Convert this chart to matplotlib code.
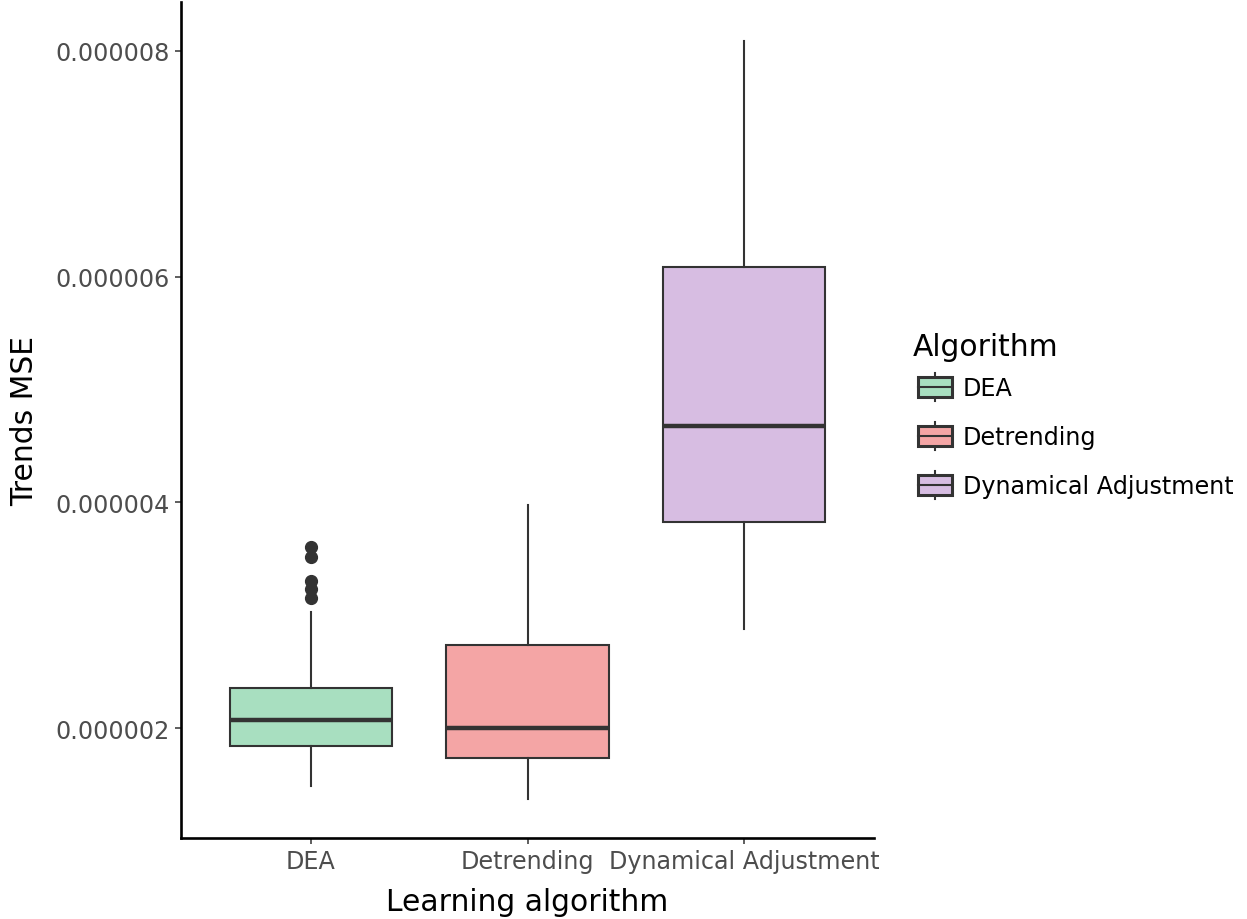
import numpy as np
import matplotlib
matplotlib.use('Agg')
import matplotlib.pyplot as plt
from matplotlib.patches import Rectangle, Patch
from matplotlib.lines import Line2D
from matplotlib.legend_handler import HandlerBase
from matplotlib.ticker import MultipleLocator, FuncFormatter

# Datos (valores en unidades de 1e-6)
algoritmos = ['DEA', 'Detrending', 'Dynamical Adjustment']
colores = ['#a8dfc0', '#f4a5a5', '#d7bde2']
whisker_bajo = [1.489, 1.371, 2.877]
q1 = [1.843, 1.732, 3.822]
mediana = [2.071, 1.997, 4.678]
q3 = [2.354, 2.735, 6.081]
whisker_alto = [3.030, 3.976, 8.089]
atipicos = [[3.601, 3.512, 3.305, 3.231, 3.152], [], []]

escala = 1e-6
s = 1.95  # factor de escala de fuentes
borde = '#333333'

fig = plt.figure(figsize=(12.47, 9.2), dpi=100)
ax = fig.add_axes([181 / 1247, 1 - 839 / 920, (874 - 181) / 1247, (839 - 3) / 920])

# Estadísticas para bxp
stats = []
for i, nombre in enumerate(algoritmos):
    stats.append({
        'label': nombre,
        'whislo': whisker_bajo[i] * escala,
        'q1': q1[i] * escala,
        'med': mediana[i] * escala,
        'q3': q3[i] * escala,
        'whishi': whisker_alto[i] * escala,
        'fliers': np.array(atipicos[i]) * escala,
    })

bp = ax.bxp(stats, positions=[1, 2, 3], widths=0.75, patch_artist=True,
            showcaps=False,
            boxprops=dict(edgecolor=borde, linewidth=1.5),
            whiskerprops=dict(color=borde, linewidth=1.5),
            medianprops=dict(color=borde, linewidth=3.2, solid_capstyle='butt'),
            flierprops=dict(marker='o', markerfacecolor=borde, markeredgecolor=borde,
                            markersize=8.5, linestyle='none'))
for caja, color in zip(bp['boxes'], colores):
    caja.set_facecolor(color)

ax.set_xlim(0.4, 3.6)
ax.set_ylim(1.0255 * escala, 8.432 * escala)

ax.yaxis.set_major_locator(MultipleLocator(2e-6))
ax.yaxis.set_major_formatter(FuncFormatter(lambda v, p: f'{v:.6f}'))
ax.set_xticks([1, 2, 3])
ax.set_xticklabels(algoritmos)

for lado in ['top', 'right']:
    ax.spines[lado].set_visible(False)
for lado in ['left', 'bottom']:
    ax.spines[lado].set_linewidth(1.9)
    ax.spines[lado].set_color('black')

ax.tick_params(axis='both', length=4, width=1.1, color=borde,
               labelsize=8.8 * s, labelcolor='#4d4d4d', pad=4)

ax.set_xlabel('Learning algorithm', fontsize=11 * s, labelpad=10)
ax.set_ylabel('Trends MSE', fontsize=11 * s, labelpad=12)


# Manejador para dibujar la clave de la leyenda como un mini boxplot
class HandlerCaja(HandlerBase):
    def create_artists(self, legend, orig_handle, xdescent, ydescent,
                       width, height, fontsize, trans):
        cx = -xdescent + width / 2
        y0 = -ydescent
        rect = Rectangle((-xdescent, y0 + height * 0.16), width, height * 0.68,
                         facecolor=orig_handle.get_facecolor(), edgecolor=borde,
                         linewidth=2.2, transform=trans)
        med = Line2D([-xdescent, -xdescent + width], [y0 + height / 2] * 2,
                     color=borde, linewidth=1.5, transform=trans)
        w1 = Line2D([cx, cx], [y0, y0 + height * 0.16], color=borde,
                    linewidth=1.5, transform=trans)
        w2 = Line2D([cx, cx], [y0 + height * 0.84, y0 + height], color=borde,
                    linewidth=1.5, transform=trans)
        return [w1, w2, rect, med]


# Título de la leyenda por separado para controlar su posición
fig.text(913 / 1247, 1 - 347 / 920, 'Algorithm', fontsize=11 * s,
         ha='left', va='center')

manijas = [Patch(facecolor=c, label=n) for c, n in zip(colores, algoritmos)]
leg = fig.legend(handles=manijas, handler_map={Patch: HandlerCaja()},
                 loc='center left', bbox_to_anchor=(918 / 1247, 1 - 437 / 920),
                 frameon=False, fontsize=8.8 * s,
                 handlelength=1.42, handleheight=1.45, labelspacing=0.87,
                 handletextpad=0.45, borderaxespad=0, borderpad=0)

fig.savefig('out.png', dpi=100)
